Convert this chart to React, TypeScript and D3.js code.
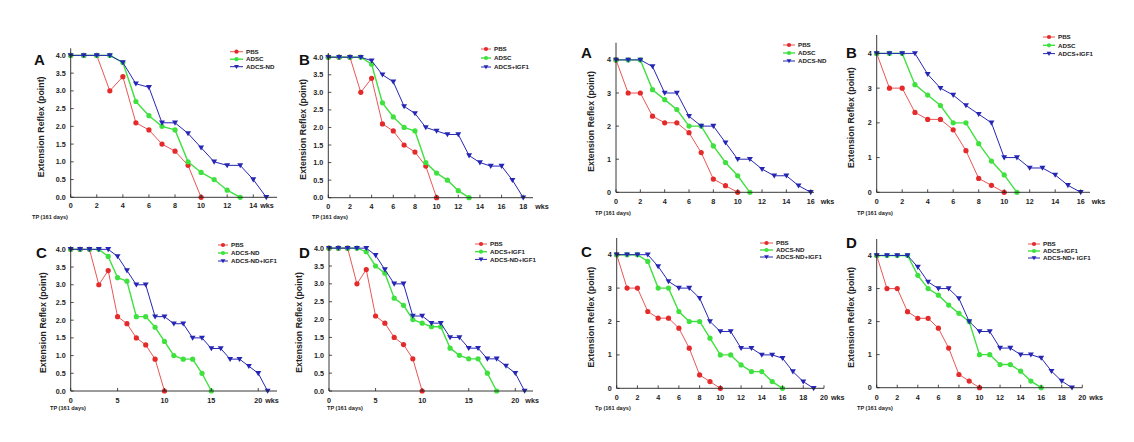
import React from "react";
import * as d3 from "d3";

// ---- data (weekly scores, index = week) ----
const pbsLeft = [4, 4, 4, 3.0, 3.4, 2.1, 1.9, 1.5, 1.3, 0.9, 0];
const adscLeft = [4, 4, 4, 4, 3.8, 2.7, 2.3, 2.0, 1.9, 1.0, 0.7, 0.5, 0.2, 0];
const adcsNdLeft = [4, 4, 4, 4, 3.8, 3.2, 3.1, 2.1, 2.1, 1.8, 1.4, 1.0, 0.9, 0.9, 0.5, 0];
const adcsIgfLeft = [4, 4, 4, 4, 3.9, 3.5, 3.3, 2.6, 2.4, 2.0, 1.9, 1.8, 1.8, 1.2, 1.0, 0.9, 0.9, 0.5, 0];
const adcsNdIgfLeft = [4, 4, 4, 4, 4, 3.8, 3.4, 3.0, 3.0, 2.1, 2.1, 1.9, 1.9, 1.5, 1.5, 1.2, 1.2, 0.9, 0.9, 0.7, 0.5, 0];

const pbsRight = [4, 3, 3, 2.3, 2.1, 2.1, 1.8, 1.2, 0.4, 0.2, 0];
const adscRight = [4, 4, 4, 3.1, 2.8, 2.5, 2.0, 2.0, 1.4, 0.9, 0.5, 0];
const adcsNdRight = [4, 4, 4, 3.8, 3.0, 3.0, 2.3, 2.0, 2.0, 1.5, 1.0, 1.0, 0.7, 0.5, 0.5, 0.2, 0];
const adcsIgfRight = [4, 4, 4, 4, 3.4, 3.0, 2.8, 2.5, 2.25, 2.0, 1.0, 1.0, 0.7, 0.7, 0.5, 0.2, 0];
const adcsNdIgfRight = [4, 4, 4, 4, 3.65, 3.2, 3.0, 3.0, 2.7, 2.0, 1.7, 1.7, 1.2, 1.2, 1.0, 1.0, 0.9, 0.5, 0.2, 0];

const xTicksA = [0, 2, 4, 6, 8, 10, 12, 14];
const xTicksB = [0, 2, 4, 6, 8, 10, 12, 14, 16, 18];
const xTicks5 = [0, 5, 10, 15, 20];
const xTicks16 = [0, 2, 4, 6, 8, 10, 12, 14, 16];
const xTicks20 = [0, 2, 4, 6, 8, 10, 12, 14, 16, 18, 20];
const yTicksHalf = [0, 0.5, 1, 1.5, 2, 2.5, 3, 3.5, 4];
const yTicksInt = [0, 1, 2, 3, 4];

const RED = "#e42a2a";
const GREEN = "#3fe13f";
const BLUE = "#2626b4";

type Series = { name: string; values: number[]; color: string; shape: "circle" | "tri"; width: number };

type Panel = {
  letter: string;
  left: number; right: number; top: number; bottom: number;
  xMax: number; yMax: number;
  xTicks: number[]; yTicks: number[]; yFmt: string;
  series: Series[];
  letterX: number; letterY: number;
  legX: number; legLen: number; legY: number; legDy: number;
  titleX: number; tpX: number; tpY: number; tpText: string;
  wksDx: number; tickDy: number;
};

const S = (name: string, values: number[], color: string, shape: "circle" | "tri", width: number): Series => ({ name, values, color, shape, width });

const panels: Panel[] = [
  {
    letter: "A", left: 70.7, right: 277, top: 48.3, bottom: 197.3, xMax: 15.82, yMax: 4.2,
    xTicks: xTicksA, yTicks: yTicksHalf, yFmt: ".1f",
    series: [S("PBS", pbsLeft, RED, "circle", 0.8), S("ADSC", adscLeft, GREEN, "circle", 1.4), S("ADCS-ND", adcsNdLeft, BLUE, "tri", 1)],
    letterX: 34, letterY: 65, legX: 230, legLen: 13, legY: 51.7, legDy: 7.5,
    titleX: 44, tpX: 32, tpY: 219, tpText: "TP (161 days)", wksDx: 7, tickDy: 11,
  },
  {
    letter: "B", left: 328.3, right: 533, top: 53, bottom: 197.7, xMax: 18.9, yMax: 4.12,
    xTicks: xTicksB, yTicks: yTicksHalf, yFmt: ".1f",
    series: [S("PBS", pbsLeft, RED, "circle", 0.8), S("ADSC", adscLeft, GREEN, "circle", 1.4), S("ADCS+IGF1", adcsIgfLeft, BLUE, "tri", 1)],
    letterX: 299, letterY: 65, legX: 481, legLen: 10, legY: 49, legDy: 9,
    titleX: 306, tpX: 312, tpY: 219, tpText: "TP (161 days)", wksDx: 12, tickDy: 11,
  },
  {
    letter: "A", left: 616, right: 814, top: 42.7, bottom: 192.3, xMax: 16.27, yMax: 4.52,
    xTicks: xTicks16, yTicks: yTicksInt, yFmt: "d",
    series: [S("PBS", pbsRight, RED, "circle", 0.8), S("ADSC", adscRight, GREEN, "circle", 1.4), S("ADCS-ND", adcsNdRight, BLUE, "tri", 1)],
    letterX: 581, letterY: 58, legX: 783, legLen: 12, legY: 45, legDy: 8,
    titleX: 594, tpX: 595, tpY: 215, tpText: "TP (161 days)", wksDx: 10, tickDy: 12,
  },
  {
    letter: "B", left: 876.7, right: 1090, top: 35, bottom: 192.3, xMax: 16.73, yMax: 4.53,
    xTicks: xTicks16, yTicks: yTicksInt, yFmt: "d",
    series: [S("PBS", pbsRight, RED, "circle", 0.8), S("ADSC", adscRight, GREEN, "circle", 1.4), S("ADCS+IGF1", adcsIgfRight, BLUE, "tri", 1)],
    letterX: 846, letterY: 58, legX: 1043, legLen: 12, legY: 37, legDy: 8.3,
    titleX: 854, tpX: 857, tpY: 215, tpText: "TP (161 days)", wksDx: 11, tickDy: 12,
  },
  {
    letter: "C", left: 70.7, right: 277, top: 246.5, bottom: 391, xMax: 22, yMax: 4.08,
    xTicks: xTicks5, yTicks: yTicksHalf, yFmt: ".1f",
    series: [S("PBS", pbsLeft, RED, "circle", 0.8), S("ADCS-ND", adcsNdLeft, GREEN, "circle", 1.4), S("ADCS-ND+IGF1", adcsNdIgfLeft, BLUE, "tri", 1)],
    letterX: 36, letterY: 258, legX: 218, legLen: 10, legY: 245, legDy: 8,
    titleX: 46, tpX: 50, tpY: 410, tpText: "TP (161 days)", wksDx: 7, tickDy: 12,
  },
  {
    letter: "D", left: 329, right: 533, top: 246, bottom: 391, xMax: 21.9, yMax: 4.06,
    xTicks: xTicks5, yTicks: yTicksHalf, yFmt: ".1f",
    series: [S("PBS", pbsLeft, RED, "circle", 0.8), S("ADCS+IGF1", adcsIgfLeft, GREEN, "circle", 1.4), S("ADCS-ND+IGF1", adcsNdIgfLeft, BLUE, "tri", 1)],
    letterX: 299, letterY: 258, legX: 475, legLen: 12, legY: 244, legDy: 7.7,
    titleX: 302, tpX: 327, tpY: 410, tpText: "TP (161 days)", wksDx: 10, tickDy: 12,
  },
  {
    letter: "C", left: 616.7, right: 824, top: 238, bottom: 388.3, xMax: 20, yMax: 4.5,
    xTicks: xTicks20, yTicks: yTicksInt, yFmt: "d",
    series: [S("PBS", pbsRight, RED, "circle", 0.8), S("ADCS-ND", adcsNdRight, GREEN, "circle", 1.4), S("ADCS-ND+IGF1", adcsNdIgfRight, BLUE, "tri", 1)],
    letterX: 581, letterY: 257, legX: 760, legLen: 13, legY: 243, legDy: 7,
    titleX: 594, tpX: 595, tpY: 410, tpText: "Tp (161 days)", wksDx: 7, tickDy: 12,
  },
  {
    letter: "D", left: 876.7, right: 1082.3, top: 239, bottom: 387.7, xMax: 20, yMax: 4.5,
    xTicks: xTicks20, yTicks: yTicksInt, yFmt: "d",
    series: [S("PBS", pbsRight, RED, "circle", 0.8), S("ADCS+IGF1", adcsIgfRight, GREEN, "circle", 1.4), S("ADCS-ND+ IGF1", adcsNdIgfRight, BLUE, "tri", 1)],
    letterX: 846, letterY: 248, legX: 1028, legLen: 12, legY: 244, legDy: 7,
    titleX: 854, tpX: 857, tpY: 410, tpText: "TP (161 days)", wksDx: 7, tickDy: 12,
  },
];

const FONT = "'Liberation Sans', Arial, sans-serif";

function Marker({ x, y, color, shape, r }: { x: number; y: number; color: string; shape: string; r: number }) {
  if (shape === "tri") {
    const s = r * 1.15;
    return <path d={`M${x - s},${y - s * 0.75}L${x + s},${y - s * 0.75}L${x},${y + s * 0.95}Z`} fill={color} />;
  }
  return <circle cx={x} cy={y} r={r} fill={color} />;
}

function PanelView({ p }: { p: Panel }) {
  const x = d3.scaleLinear().domain([0, p.xMax]).range([p.left, p.right]);
  const y = d3.scaleLinear().domain([0, p.yMax]).range([p.bottom, p.top]);
  const line = d3.line<number>().x((_, i) => x(i)).y((v) => y(v));
  const fmt = d3.format(p.yFmt);
  const lastTick = p.xTicks[p.xTicks.length - 1];
  return (
    <g fontFamily={FONT}>
      {p.series.map((s) => (
        <g key={s.name}>
          <path d={line(s.values) || ""} fill="none" stroke={s.color} strokeWidth={s.width} />
          {s.values.map((v, i) => (
            <Marker key={i} x={x(i)} y={y(v)} color={s.color} shape={s.shape} r={2.6} />
          ))}
        </g>
      ))}
      <line x1={p.left} x2={p.left} y1={p.top} y2={p.bottom} stroke="#222" strokeWidth={0.9} />
      <line x1={p.left} x2={p.right} y1={p.bottom} y2={p.bottom} stroke="#222" strokeWidth={0.9} />
      {p.xTicks.map((t) => (
        <g key={"x" + t}>
          <line x1={x(t)} x2={x(t)} y1={p.bottom} y2={p.bottom - 3} stroke="#222" strokeWidth={0.8} />
          <text x={x(t)} y={p.bottom + p.tickDy} fontSize={7.2} fontWeight="bold" textAnchor="middle" fill="#222">{t}</text>
        </g>
      ))}
      <text x={x(lastTick) + p.wksDx} y={p.bottom + p.tickDy} fontSize={7.2} fontWeight="bold" fill="#222">wks</text>
      {p.yTicks.map((t) => (
        <g key={"y" + t}>
          <line x1={p.left} x2={p.left + 3} y1={y(t)} y2={y(t)} stroke="#222" strokeWidth={0.8} />
          <text x={p.left - 5} y={y(t) + 2.5} fontSize={7.2} fontWeight="bold" textAnchor="end" fill="#222">{fmt(t)}</text>
        </g>
      ))}
      <text
        transform={`translate(${p.titleX},${(p.top + p.bottom) / 2 + 4}) rotate(-90)`}
        fontSize={8.8}
        fontWeight="bold"
        textAnchor="middle"
        fill="#222"
      >
        Extension Reflex (point)
      </text>
      <text x={p.letterX} y={p.letterY} fontSize={15} fontWeight="bold" fill="#111">{p.letter}</text>
      <text x={p.tpX} y={p.tpY} fontSize={5.6} fontWeight="bold" fill="#222">{p.tpText}</text>
      {p.series.map((s, i) => {
        const ly = p.legY + i * p.legDy;
        return (
          <g key={"l" + s.name}>
            <line x1={p.legX} x2={p.legX + p.legLen} y1={ly} y2={ly} stroke={s.color} strokeWidth={s.width} />
            <Marker x={p.legX + p.legLen / 2} y={ly} color={s.color} shape={s.shape} r={2.1} />
            <text x={p.legX + p.legLen + 3} y={ly + 2.2} fontSize={6.2} fontWeight="bold" fill="#222">{s.name}</text>
          </g>
        );
      })}
    </g>
  );
}

export default function App() {
  return (
    <svg width={1134} height={442} style={{ position: "absolute", left: 0, top: 0, background: "#fff" }}>
      <rect width={1134} height={442} fill="#fff" />
      {panels.map((p, i) => (
        <PanelView key={i} p={p} />
      ))}
    </svg>
  );
}
